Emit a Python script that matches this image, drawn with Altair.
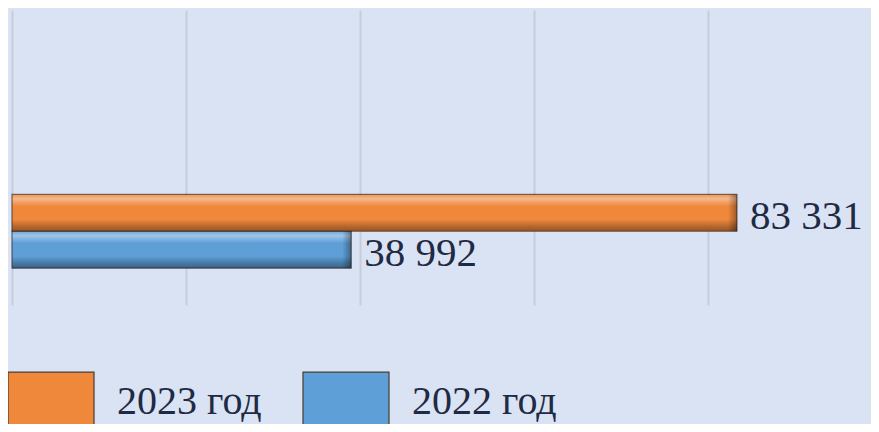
import altair as alt
import pandas as pd

# ---- data ----
series = ["2023 год", "2022 год"]
values = [83331, 38992]
colors = ["#f0883c", "#5e9fd8"]
grid_values = [0, 20000, 40000, 60000, 80000, 100000]

df = pd.DataFrame({"series": series, "value": values})
df["label"] = [f"{v:,}".replace(",", " ") for v in values]

# ---- layout ----
W = 859
H = 295
xmax = 100000 * W / 870
font = "Liberation Serif"
text_color = "#1f2a44"
bg = "#dae3f3"
# empty slots above / below so the pair of bars sits low in the plot, as in the reference
y_domain = [f"_{i}" for i in range(5)] + series + ["_5"]

x = alt.X(
    "value:Q",
    scale=alt.Scale(domain=[0, xmax], nice=False, zero=True),
    axis=alt.Axis(values=grid_values, labels=False, ticks=False, domain=False,
                  grid=True, gridColor="#c6cddb", gridWidth=2, title=None),
)
y = alt.Y(
    "series:N",
    scale=alt.Scale(domain=y_domain, paddingInner=0, paddingOuter=0),
    axis=None,
)
color = alt.Color(
    "series:N", sort=series,
    scale=alt.Scale(domain=series, range=colors),
    legend=alt.Legend(
        orient="none", legendX=-5, legendY=348, direction="horizontal",
        title=None, symbolType="M-1,-0.7H1V0.7H-1Z", symbolSize=7396,
        symbolStrokeColor="#4a3a30", symbolStrokeWidth=1.2, symbolOpacity=1,
        labelFont=font, labelFontSize=40, labelColor=text_color,
        labelOffset=22, columnPadding=38, padding=0, labelLimit=400,
    ),
)

base = alt.Chart(df)

bars = base.mark_bar(opacity=1).encode(x=x, y=y, color=color)

shade = alt.Gradient(
    gradient="linear", x1=0, y1=0, x2=0, y2=1,
    stops=[
        alt.GradientStop(offset=0, color="rgba(255,255,255,0.10)"),
        alt.GradientStop(offset=0.12, color="rgba(255,255,255,0.40)"),
        alt.GradientStop(offset=0.32, color="rgba(255,255,255,0.0)"),
        alt.GradientStop(offset=0.68, color="rgba(0,0,0,0.0)"),
        alt.GradientStop(offset=0.85, color="rgba(0,0,0,0.22)"),
        alt.GradientStop(offset=1, color="rgba(0,0,0,0.38)"),
    ],
)
overlay = base.mark_bar(fill=shade, stroke="rgba(40,30,20,0.6)", strokeWidth=1.2).encode(
    x=x, y=y
)

end_shade = alt.Gradient(
    gradient="linear", x1=0, y1=0, x2=1, y2=0,
    stops=[
        alt.GradientStop(offset=0, color="rgba(0,0,0,0.0)"),
        alt.GradientStop(offset=1, color="rgba(0,0,0,0.35)"),
    ],
)
chamfer = base.mark_rect(fill=end_shade, xOffset=-9).encode(
    x=x, x2="value:Q", y=y
)

labels = base.mark_text(
    align="left", baseline="middle", dx=13, dy=4,
    fontSize=41, font=font, color=text_color,
).encode(x=x, y=y, text="label:N")

chart = (
    alt.layer(bars, overlay, chamfer, labels)
    .properties(
        width=W, height=H,
        autosize=alt.AutoSizeParams(type="none"),
        padding={"left": 4, "top": 2, "right": 0, "bottom": 119},
        background=bg,
    )
    .configure_view(stroke=None)
)

chart.save("out.html", embed_options={"renderer": "svg", "actions": False})
